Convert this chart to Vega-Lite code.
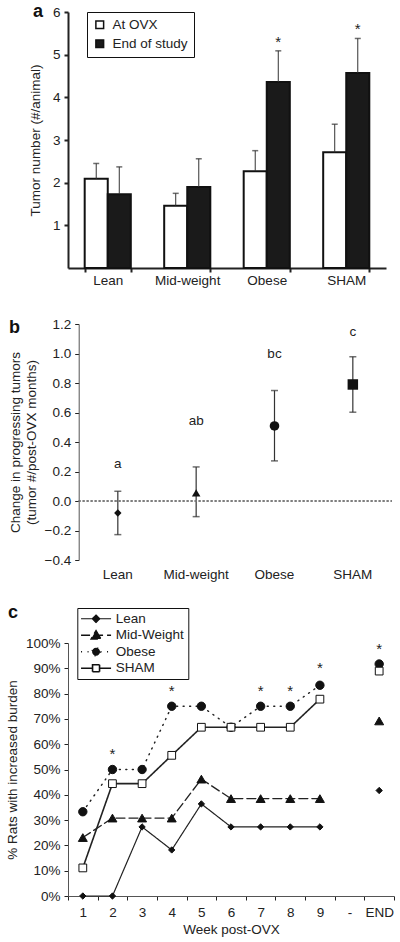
{
  "$schema": "https://vega.github.io/schema/vega-lite/v6.json",
  "background": "white",
  "padding": {"left": 5, "top": 3, "right": 5, "bottom": 3},
  "config": {
    "font": "Liberation Sans",
    "view": {"stroke": null},
    "axis": {"labelFont": "Liberation Sans", "titleFont": "Liberation Sans", "labelFontSize": 13.5, "titleFontSize": 13.5, "titleFontWeight": "normal", "labelColor": "#222", "titleColor": "#222", "grid": false, "domainColor": "#222", "tickColor": "#222", "labelOverlap": false},
    "legend": {"labelFont": "Liberation Sans", "labelFontSize": 13.5, "labelColor": "#222"},
    "title": {"font": "Liberation Sans", "fontSize": 18, "fontWeight": "bold", "color": "#111", "anchor": "start", "frame": "group"}
  },
  "resolve": {
    "scale": {"x": "independent", "y": "independent", "fill": "independent", "shape": "independent", "strokeDash": "independent", "size": "independent", "strokeWidth": "independent"},
    "legend": {"fill": "independent", "shape": "independent", "strokeDash": "independent", "size": "independent", "strokeWidth": "independent"}
  },
  "spacing": 30,
  "vconcat": [
    {
      "width": 318,
      "height": 256,
      "title": {"text": "a", "dx": -35, "dy": 20},
      "data": {"values": [
        {"group": "Lean", "period": "At OVX", "value": 2.09, "err": 2.45, "star": ""},
        {"group": "Lean", "period": "End of study", "value": 1.73, "err": 2.37, "star": ""},
        {"group": "Mid-weight", "period": "At OVX", "value": 1.46, "err": 1.75, "star": ""},
        {"group": "Mid-weight", "period": "End of study", "value": 1.90, "err": 2.56, "star": ""},
        {"group": "Obese", "period": "At OVX", "value": 2.27, "err": 2.75, "star": ""},
        {"group": "Obese", "period": "End of study", "value": 4.36, "err": 5.09, "star": "*"},
        {"group": "SHAM", "period": "At OVX", "value": 2.71, "err": 3.37, "star": ""},
        {"group": "SHAM", "period": "End of study", "value": 4.57, "err": 5.38, "star": "*"}
      ]},
      "encoding": {
        "x": {"field": "group", "type": "nominal", "sort": null,
          "scale": {"domain": ["Lean", "Mid-weight", "Obese", "SHAM"], "paddingInner": 0.42, "paddingOuter": 0.21},
          "axis": {"title": null, "labelAngle": 0, "domainWidth": 2, "tickWidth": 2, "tickSize": 4, "tickBand": "extent", "labelPadding": 1}},
        "xOffset": {"field": "period", "type": "nominal", "sort": null}
      },
      "layer": [
        {
          "mark": {"type": "bar", "stroke": "#111", "strokeWidth": 2},
          "encoding": {
            "y": {"field": "value", "type": "quantitative",
              "scale": {"domain": [0, 6], "nice": false},
              "axis": {"title": "Tumor number (#/animal)", "values": [1, 2, 3, 4, 5, 6], "labelOverlap": false, "domainWidth": 2, "tickWidth": 2, "tickSize": 4, "labelPadding": 4, "titlePadding": 10}},
            "fill": {"field": "period", "type": "nominal",
              "scale": {"domain": ["At OVX", "End of study"], "range": ["#ffffff", "#1a1a1a"]},
              "legend": {"title": null, "orient": "none", "legendX": 19, "legendY": 0, "symbolType": "square", "symbolSize": 60, "symbolStrokeColor": "#111", "symbolStrokeWidth": 1.5, "strokeColor": "#111", "padding": 6, "rowPadding": 4, "labelOffset": 6, "fillColor": "white"}}
          }
        },
        {
          "mark": {"type": "rule", "color": "#333", "strokeWidth": 1},
          "encoding": {"y": {"field": "value", "type": "quantitative"}, "y2": {"field": "err"}}
        },
        {
          "mark": {"type": "tick", "color": "#333", "size": 6, "thickness": 1.5},
          "encoding": {"y": {"field": "err", "type": "quantitative"}}
        },
        {
          "mark": {"type": "text", "fontSize": 15, "baseline": "alphabetic", "dy": -4, "color": "#222"},
          "encoding": {"y": {"field": "err", "type": "quantitative"}, "text": {"field": "star"}}
        }
      ]
    },
    {
      "spacing": 22,
      "resolve": {
        "scale": {"x": "independent", "y": "independent", "fill": "independent", "shape": "independent", "strokeDash": "independent", "size": "independent", "strokeWidth": "independent"},
        "legend": {"fill": "independent", "shape": "independent", "strokeDash": "independent", "size": "independent", "strokeWidth": "independent"}
      },
      "vconcat": [
        {
          "width": 324,
          "height": 236,
          "title": {"text": "b", "dx": -59, "dy": 24},
          "data": {"values": [
            {"group": "Lean", "value": -0.081, "lo": -0.228, "hi": 0.066, "letter": "a", "ly": 0.25},
            {"group": "Mid-weight", "value": 0.055, "lo": -0.106, "hi": 0.231, "letter": "ab", "ly": 0.54},
            {"group": "Obese", "value": 0.509, "lo": 0.272, "hi": 0.749, "letter": "bc", "ly": 1.0},
            {"group": "SHAM", "value": 0.79, "lo": 0.602, "hi": 0.978, "letter": "c", "ly": 1.145}
          ]},
          "encoding": {
            "x": {"field": "group", "type": "nominal", "sort": null,
              "scale": {"domain": ["Lean", "Mid-weight", "Obese", "SHAM"], "paddingInner": 0, "paddingOuter": 0.068, "align": 1},
              "axis": {"title": null, "labelAngle": 0, "domain": false, "ticks": false, "labelPadding": 7}}
          },
          "layer": [
            {
              "mark": {"type": "rule", "color": "#333", "strokeWidth": 1.2},
              "encoding": {
                "y": {"field": "lo", "type": "quantitative",
                  "scale": {"domain": [-0.4, 1.2], "nice": false},
                  "axis": {"title": ["Change in progressing tumors", "(tumor #/post-OVX months)"], "titleLineHeight": 16, "tickCount": 8, "labelOverlap": false, "format": ".1f", "offset": -10.7, "tickSize": 4, "domainColor": "#555", "labelPadding": 4, "titlePadding": 6}},
                "y2": {"field": "hi"}
              }
            },
            {
              "mark": {"type": "rule", "color": "#777", "strokeDash": [2, 2], "strokeWidth": 1},
              "encoding": {
                "x": {"datum": "Lean", "bandPosition": 0},
                "x2": {"datum": "SHAM", "bandPosition": 1},
                "y": {"datum": 0, "type": "quantitative"}
              }
            },
            {
              "mark": {"type": "tick", "color": "#333", "size": 7, "thickness": 1.5},
              "encoding": {"y": {"field": "lo", "type": "quantitative"}}
            },
            {
              "mark": {"type": "tick", "color": "#333", "size": 7, "thickness": 1.5},
              "encoding": {"y": {"field": "hi", "type": "quantitative"}}
            },
            {
              "mark": {"type": "point", "filled": true, "color": "#111", "opacity": 1},
              "encoding": {
                "y": {"field": "value", "type": "quantitative"},
                "shape": {"field": "group", "type": "nominal", "legend": null,
                  "scale": {"domain": ["Lean", "Mid-weight", "Obese", "SHAM"], "range": ["diamond", "triangle-up", "circle", "square"]}},
                "size": {"field": "group", "type": "nominal", "legend": null,
                  "scale": {"domain": ["Lean", "Mid-weight", "Obese", "SHAM"], "range": [55, 110, 100, 60]}}
              }
            },
            {
              "mark": {"type": "text", "fontSize": 13.5, "color": "#222", "baseline": "middle"},
              "encoding": {"y": {"field": "ly", "type": "quantitative"}, "text": {"field": "letter"}}
            }
          ]
        },
        {
          "width": 326,
          "height": 253,
          "title": {"text": "c", "dx": -60, "dy": 18},
          "data": {"values": [
            {"group": "Lean", "week": "1", "pct": 0},
            {"group": "Lean", "week": "2", "pct": 0},
            {"group": "Lean", "week": "3", "pct": 27.3},
            {"group": "Lean", "week": "4", "pct": 18.2},
            {"group": "Lean", "week": "5", "pct": 36.4},
            {"group": "Lean", "week": "6", "pct": 27.3},
            {"group": "Lean", "week": "7", "pct": 27.3},
            {"group": "Lean", "week": "8", "pct": 27.3},
            {"group": "Lean", "week": "9", "pct": 27.3},
            {"group": "Lean", "week": "END", "pct": 41.7},
            {"group": "Mid-Weight", "week": "1", "pct": 23.1},
            {"group": "Mid-Weight", "week": "2", "pct": 30.8},
            {"group": "Mid-Weight", "week": "3", "pct": 30.8},
            {"group": "Mid-Weight", "week": "4", "pct": 30.8},
            {"group": "Mid-Weight", "week": "5", "pct": 46.2},
            {"group": "Mid-Weight", "week": "6", "pct": 38.5},
            {"group": "Mid-Weight", "week": "7", "pct": 38.5},
            {"group": "Mid-Weight", "week": "8", "pct": 38.5},
            {"group": "Mid-Weight", "week": "9", "pct": 38.5},
            {"group": "Mid-Weight", "week": "END", "pct": 69.2},
            {"group": "Obese", "week": "1", "pct": 33.3},
            {"group": "Obese", "week": "2", "pct": 50},
            {"group": "Obese", "week": "3", "pct": 50},
            {"group": "Obese", "week": "4", "pct": 75},
            {"group": "Obese", "week": "5", "pct": 75},
            {"group": "Obese", "week": "6", "pct": 66.7},
            {"group": "Obese", "week": "7", "pct": 75},
            {"group": "Obese", "week": "8", "pct": 75},
            {"group": "Obese", "week": "9", "pct": 83.3},
            {"group": "Obese", "week": "END", "pct": 91.7},
            {"group": "SHAM", "week": "1", "pct": 11.1},
            {"group": "SHAM", "week": "2", "pct": 44.4},
            {"group": "SHAM", "week": "3", "pct": 44.4},
            {"group": "SHAM", "week": "4", "pct": 55.6},
            {"group": "SHAM", "week": "5", "pct": 66.7},
            {"group": "SHAM", "week": "6", "pct": 66.7},
            {"group": "SHAM", "week": "7", "pct": 66.7},
            {"group": "SHAM", "week": "8", "pct": 66.7},
            {"group": "SHAM", "week": "9", "pct": 77.8},
            {"group": "SHAM", "week": "END", "pct": 88.9},
            {"group": "star", "week": "2", "star": 56.5},
            {"group": "star", "week": "4", "star": 81.5},
            {"group": "star", "week": "7", "star": 81.5},
            {"group": "star", "week": "8", "star": 81.5},
            {"group": "star", "week": "9", "star": 90.5},
            {"group": "star", "week": "END", "star": 98}
          ]},
          "encoding": {
            "x": {"field": "week", "type": "nominal",
              "scale": {"domain": ["1", "2", "3", "4", "5", "6", "7", "8", "9", "-", "END"], "paddingInner": 0, "paddingOuter": 0},
              "axis": {"title": "Week post-OVX", "labelAngle": 0, "tickBand": "extent", "tickSize": 4, "labelPadding": 5, "titlePadding": 4, "domainColor": "#555"}}
          },
          "layer": [
            {
              "transform": [{"filter": "datum.week !== 'END' && datum.group !== 'star'"}],
              "mark": {"type": "line", "color": "#222", "strokeCap": "round"},
              "encoding": {
                "y": {"field": "pct", "type": "quantitative",
                  "scale": {"domain": [0, 100], "nice": false},
                  "axis": {"title": "% Rats with increased burden", "tickCount": 10, "labelOverlap": false, "labelExpr": "datum.value + '%'", "tickSize": 4, "domainColor": "#555", "labelPadding": 4, "titlePadding": 6}},
                "detail": {"field": "group"},
                "strokeWidth": {"field": "group", "type": "nominal", "legend": null,
                  "scale": {"domain": ["Lean", "Mid-Weight", "Obese", "SHAM"], "range": [1.2, 1.6, 2.4, 1.2]}},
                "strokeDash": {"field": "group", "type": "nominal",
                  "scale": {"domain": ["Lean", "Mid-Weight", "Obese", "SHAM"], "range": [[1, 0], [9, 4], [1, 5.5], [1, 0]]},
                  "legend": {"title": null, "orient": "none", "legendX": 9.3, "legendY": -35, "padding": 4, "rowPadding": 1.5, "symbolType": "M-3,0H3", "symbolSize": 100, "symbolOffset": 8, "labelOffset": 13, "symbolStrokeColor": "#111", "symbolStrokeWidth": 1.2, "strokeColor": "#111", "fillColor": "white"}}
              }
            },
            {
              "transform": [{"filter": "false"}],
              "mark": {"type": "point", "filled": true, "stroke": "#111", "strokeWidth": 1.2, "opacity": 1},
              "encoding": {
                "y": {"field": "pct", "type": "quantitative"},
                "shape": {"field": "group", "type": "nominal", "legend": null,
                  "scale": {"domain": ["Lean", "Mid-Weight", "Obese", "SHAM"], "range": ["M-3,0H3M0,-0.75L0.75,0L0,0.75L-0.75,0Z", "M-3,0H3M0,-0.95L1,0.75L-1,0.75Z", "M-3,0H3M0.8,0A0.8,0.8,0,1,1,-0.8,0A0.8,0.8,0,1,1,0.8,0Z", "M-3,0H-0.7M0.7,0H3M-0.7,-0.7H0.7V0.7H-0.7Z"]}},
                "fill": {"field": "group", "type": "nominal", "legend": null,
                  "scale": {"domain": ["Lean", "Mid-Weight", "Obese", "SHAM"], "range": ["#111", "#111", "#111", "#ffffff"]}}
              }
            },
            {
              "transform": [{"filter": "datum.group === 'Lean'"}],
              "mark": {"type": "point", "shape": "diamond", "filled": true, "fill": "#111", "stroke": "#111", "strokeWidth": 1, "size": 40, "opacity": 1},
              "encoding": {"y": {"field": "pct", "type": "quantitative"}}
            },
            {
              "transform": [{"filter": "datum.group === 'Mid-Weight'"}],
              "mark": {"type": "point", "shape": "triangle-up", "filled": true, "fill": "#111", "stroke": "#111", "strokeWidth": 1, "size": 80, "opacity": 1},
              "encoding": {"y": {"field": "pct", "type": "quantitative"}}
            },
            {
              "transform": [{"filter": "datum.group === 'Obese'"}],
              "mark": {"type": "point", "shape": "circle", "filled": true, "fill": "#111", "stroke": "#111", "strokeWidth": 1, "size": 70, "opacity": 1},
              "encoding": {"y": {"field": "pct", "type": "quantitative"}}
            },
            {
              "transform": [{"filter": "datum.group === 'SHAM'"}],
              "mark": {"type": "point", "shape": "square", "filled": true, "fill": "#ffffff", "stroke": "#111", "strokeWidth": 1, "size": 60, "opacity": 1},
              "encoding": {"y": {"field": "pct", "type": "quantitative"}}
            },
            {
              "transform": [{"filter": "datum.group === 'star'"}],
              "mark": {"type": "text", "text": "*", "fontSize": 15, "baseline": "middle", "dy": 1, "color": "#222"},
              "encoding": {"y": {"field": "star", "type": "quantitative"}}
            }
          ]
        }
      ]
    }
  ]
}
